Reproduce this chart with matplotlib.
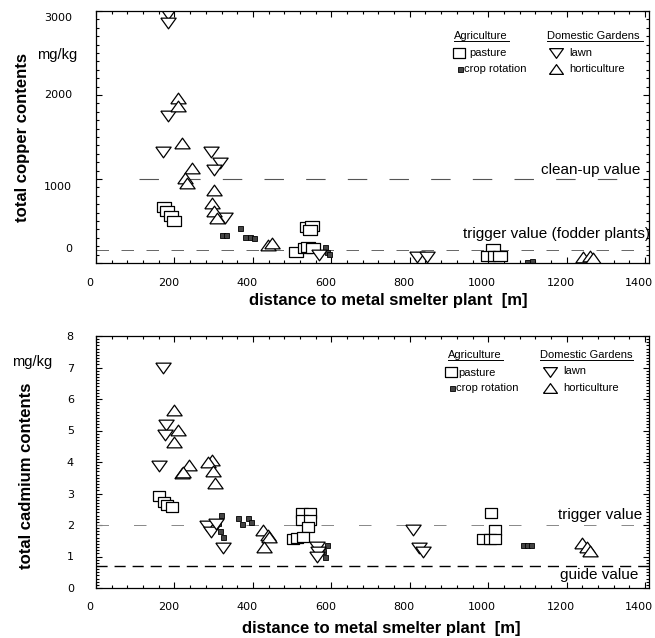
import matplotlib
matplotlib.use('Agg')
import matplotlib.pyplot as plt
from matplotlib.lines import Line2D
from matplotlib.ticker import MultipleLocator
from matplotlib.transforms import ScaledTranslation

plt.rcParams['font.family'] = ['Liberation Sans', 'DejaVu Sans']
plt.rcParams['lines.scale_dashes'] = False

# ---- copper data (distance m, mg/kg) ----
cu_lawn_x = [184, 184, 184, 171, 293, 316, 301, 329, 569, 819, 844]
cu_lawn_y = [2964, 2857, 1750, 1321, 1321, 1190, 1107, 536, 90, 71, 71]
cu_hort_x = [209, 209, 219, 245, 227, 232, 301, 296, 301, 309, 439, 449, 1242, 1260, 1268]
cu_hort_y = [1964, 1869, 1429, 1131, 1012, 952, 869, 714, 619, 536, 214, 238, 71, 83, 60]
cu_past_x = [173, 181, 191, 199, 538, 551, 546, 510, 533, 541, 554, 1013, 1000, 1018, 1031]
cu_past_y = [667, 619, 560, 500, 429, 440, 393, 131, 179, 190, 179, 167, 83, 83, 83]
cu_crop_x = [322, 332, 367, 380, 392, 402, 585, 590, 595, 1099, 1112]
cu_crop_y = [333, 333, 417, 310, 310, 300, 190, 130, 110, 15, 24]
cu_yticks = [0, 1000, 2000, 3000]

# ---- cadmium data ----
cd_lawn_x = [171, 179, 176, 161, 283, 293, 306, 324, 564, 566, 564, 809, 824, 834]
cd_lawn_y = [6.98, 5.17, 4.86, 3.87, 1.97, 1.78, 2.03, 1.27, 1.30, 1.14, 0.98, 1.84, 1.27, 1.14]
cd_hort_x = [199, 209, 199, 237, 219, 222, 296, 286, 298, 304, 426, 439, 441, 429, 1240, 1253, 1260]
cd_hort_y = [5.65, 5.02, 4.63, 3.90, 3.65, 3.68, 4.06, 4.00, 3.71, 3.33, 1.84, 1.68, 1.62, 1.30, 1.43, 1.30, 1.17]
cd_past_x = [161, 173, 181, 194, 503, 513, 526, 546, 526, 546, 541, 528, 1008, 1018, 987, 1005, 1018]
cd_past_y = [2.92, 2.73, 2.63, 2.57, 1.56, 1.59, 2.38, 2.38, 2.16, 2.16, 1.94, 1.62, 2.38, 1.84, 1.56, 1.56, 1.56]
cd_crop_x = [319, 311, 316, 324, 304, 362, 372, 388, 395, 589, 579, 584, 1090, 1100, 1110]
cd_crop_y = [2.32, 2.06, 1.81, 1.62, 2.10, 2.22, 2.03, 2.22, 2.10, 1.37, 1.17, 0.98, 1.37, 1.37, 1.37]

W, H = 655, 638
fig = plt.figure(figsize=(W / 100, H / 100), dpi=100)


def fx(px):
    return px / W


def fy(py):
    return 1 - py / H


up_tri = [(-1, -0.7), (1, -0.7), (0, 0.7), (-1, -0.7)]
down_tri = [(-1, 0.7), (1, 0.7), (0, -0.7), (-1, 0.7)]
rect = [(-1, -0.75), (1, -0.75), (1, 0.75), (-1, 0.75), (-1, -0.75)]

open_kw = dict(mfc='white', mec='black', mew=0.9, ls='none')
crop_kw = dict(marker='s', ms=3.6, mfc='#444444', mec='black', mew=0.6, ls='none')


def offset(dx_px, dy_px):
    return ScaledTranslation(dx_px / 100, dy_px / 100, fig.dpi_scale_trans)


def style_axes(ax):
    ax.tick_params(which='both', direction='in', top=True, right=True,
                   labelsize=8, labelfontfamily='DejaVu Sans', width=0.8)
    ax.tick_params(which='major', length=4.5)
    ax.tick_params(which='minor', length=2.2)
    for s in ax.spines.values():
        s.set_linewidth(0.9)
    ax.set_xlim(0, 1410)
    ax.xaxis.set_major_locator(MultipleLocator(200))
    ax.xaxis.set_minor_locator(MultipleLocator(40))


# ---------------- copper ----------------
ax1 = fig.add_axes([fx(96), fy(263), fx(649) - fx(96), fy(11) - fy(263)])
style_axes(ax1)
ax1.set_ylim(0, 3000)
ax1.yaxis.set_major_locator(MultipleLocator(1000))
ax1.yaxis.set_minor_locator(MultipleLocator(100))
ax1.tick_params(axis='x', pad=11)
ax1.tick_params(axis='y', labelleft=False)

# y labels of the copper panel are nudged off their ticks in the original
cu_label_dy = [14, -8, 0, -7]
for val, dy in zip(cu_yticks, cu_label_dy):
    ax1.text(-0.043, val, f'{val}', ha='right', va='center', fontsize=8,
             family='DejaVu Sans', transform=ax1.get_yaxis_transform() + offset(0, dy))

ax1.hlines(1000, 110, 1360, colors='#555555', lw=0.8, linestyles=(0, (14, 16)))
ax1.axhline(150, color='#666666', lw=0.7, ls=(0, (9, 9)))

ax1.plot(cu_past_x, cu_past_y, marker=rect, ms=9.5, **open_kw)
ax1.plot(cu_crop_x, cu_crop_y, **crop_kw)
ax1.plot(cu_lawn_x, cu_lawn_y, marker=down_tri, ms=11, **open_kw)
ax1.plot(cu_hort_x, cu_hort_y, marker=up_tri, ms=11, **open_kw)

# ---------------- cadmium ----------------
ax2 = fig.add_axes([fx(96), fy(588), fx(649) - fx(96), fy(336) - fy(588)])
style_axes(ax2)
ax2.set_ylim(0, 8)
ax2.yaxis.set_major_locator(MultipleLocator(1))
ax2.yaxis.set_minor_locator(MultipleLocator(0.1))
ax2.tick_params(axis='x', pad=10)
ax2.tick_params(axis='y', pad=16)

ax2.axhline(2, color='#888888', lw=0.7, ls=(0, (9, 18)))
ax2.axhline(0.7, color='black', lw=1.0, ls=(0, (8, 5)))

ax2.plot(cd_past_x, cd_past_y, marker=rect, ms=9, **open_kw)
ax2.plot(cd_crop_x, cd_crop_y, **crop_kw)
ax2.plot(cd_lawn_x, cd_lawn_y, marker=down_tri, ms=11, **open_kw)
ax2.plot(cd_hort_x, cd_hort_y, marker=up_tri, ms=11, **open_kw)

# x tick labels sit a little left of their ticks in the original
for ax in (ax1, ax2):
    for lab in ax.get_xticklabels():
        lab.set_transform(lab.get_transform() + offset(-6, 0))

# ---------------- texts ----------------
bold = dict(fontsize=12, fontweight='bold')
fig.text(fx(23), fy(138), 'total copper contents', rotation=90, ha='center', va='center', **bold)
fig.text(fx(27), fy(476), 'total cadmium contents', rotation=90, ha='center', va='center', **bold)
fig.text(fx(388), fy(301), 'distance to metal smelter plant  [m]', ha='center', va='center', **bold)
fig.text(fx(381), fy(628), 'distance to metal smelter plant  [m]', ha='center', va='center', **bold)
fig.text(fx(57), fy(55), 'mg/kg', ha='center', va='center', fontsize=10.5)
fig.text(fx(32), fy(362), 'mg/kg', ha='center', va='center', fontsize=10.5)

fig.text(fx(640), fy(170), 'clean-up value', ha='right', va='center', fontsize=11)
fig.text(fx(650), fy(234), 'trigger value (fodder plants)', ha='right', va='center', fontsize=11)
fig.text(fx(642), fy(515), 'trigger value', ha='right', va='center', fontsize=11)
fig.text(fx(638), fy(575), 'guide value', ha='right', va='center', fontsize=11)


def legend(x_ag, x_dg, y0, dy, x_sq, x_tri, x_txt1, x_txt2, w_ag, w_dg):
    fig.text(fx(x_ag), fy(y0), 'Agriculture', ha='left', va='center', fontsize=8)
    fig.text(fx(x_dg), fy(y0), 'Domestic Gardens', ha='left', va='center', fontsize=8)
    fig.add_artist(Line2D([fx(x_ag), fx(x_ag + w_ag)], [fy(y0 + 5), fy(y0 + 5)],
                          transform=fig.transFigure, lw=0.7, color='black'))
    fig.add_artist(Line2D([fx(x_dg), fx(x_dg + w_dg)], [fy(y0 + 5), fy(y0 + 5)],
                          transform=fig.transFigure, lw=0.7, color='black'))
    fig.add_artist(Line2D([fx(x_sq)], [fy(y0 + dy)], transform=fig.transFigure,
                          marker=rect, ms=9, **open_kw))
    fig.add_artist(Line2D([fx(x_sq + 1)], [fy(y0 + 2 * dy)], transform=fig.transFigure, **crop_kw))
    fig.add_artist(Line2D([fx(x_tri)], [fy(y0 + dy)], transform=fig.transFigure,
                          marker=down_tri, ms=10, **open_kw))
    fig.add_artist(Line2D([fx(x_tri)], [fy(y0 + 2 * dy)], transform=fig.transFigure,
                          marker=up_tri, ms=10, **open_kw))
    fig.text(fx(x_txt1), fy(y0 + dy + 1), 'pasture', ha='left', va='center', fontsize=8)
    fig.text(fx(x_sq + 5), fy(y0 + 2 * dy), 'crop rotation', ha='left', va='center', fontsize=8)
    fig.text(fx(x_txt2), fy(y0 + dy), 'lawn', ha='left', va='center', fontsize=8)
    fig.text(fx(x_txt2), fy(y0 + 2 * dy), 'horticulture', ha='left', va='center', fontsize=8)


legend(454, 547, 36, 16.5, 459, 556, 469, 569, 55, 96)
legend(448, 540, 355, 16.5, 451, 550, 458, 563, 55, 93)

fig.savefig('out.png', dpi=100)
